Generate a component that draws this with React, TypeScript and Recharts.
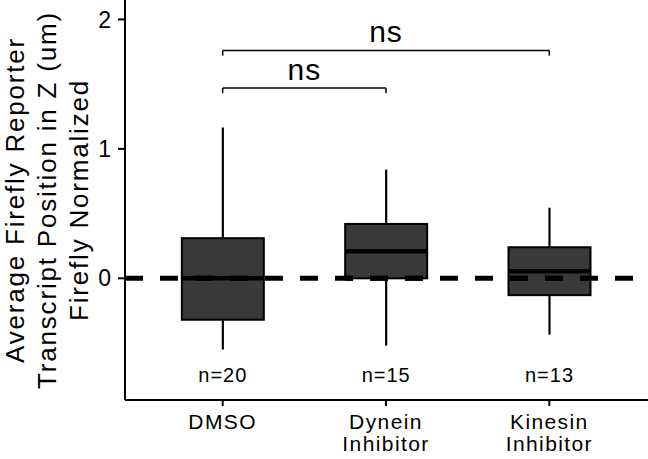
import {
  ComposedChart,
  Bar,
  XAxis,
  YAxis,
  ReferenceLine,
  Customized,
} from 'recharts';

const categories = ['DMSO', 'Dynein Inhibitor', 'Kinesin Inhibitor'];
const whiskerLow = [-0.55, -0.52, -0.435];
const lowerQuartile = [-0.32, 0.0, -0.13];
const medians = [0.0, 0.21, 0.055];
const upperQuartile = [0.31, 0.42, 0.24];
const whiskerHigh = [1.165, 0.84, 0.545];
const counts = [20, 15, 13];

const yTicks = [0, 1, 2];
const yDomain: [number, number] = [-0.94, 2.15];
const countLabelY = -0.8;
const zeroLine = 0;

const brackets = [
  { from: 'DMSO', to: 'Kinesin Inhibitor', y: 1.76, label: 'ns' },
  { from: 'DMSO', to: 'Dynein Inhibitor', y: 1.47, label: 'ns' },
];
const bracketDrop = 0.04;

const titleLines = ['Average Firefly Reporter', 'Transcript Position in Z (um)', 'Firefly Normalized'];

const FONT = '"Liberation Sans", Arial, Helvetica, sans-serif';
const BOX_FILL = '#393939';
const PLOT_LEFT = 125;
const DASH = [18, 17];
const DASH_PERIOD = DASH[0] + DASH[1];

const data = categories.map((name, i) => ({
  name,
  min: whiskerLow[i],
  q1: lowerQuartile[i],
  median: medians[i],
  q3: upperQuartile[i],
  max: whiskerHigh[i],
  n: counts[i],
}));

function BoxShape(props: any) {
  const { x, y, width, height, payload } = props;
  const top = Math.min(y, y + height);
  const bottom = Math.max(y, y + height);
  const span = payload.max - payload.min;
  // the bar covers min..max, so place the other stats along it
  const py = (v: number) => top + ((payload.max - v) / span) * (bottom - top);
  const cx = x + width / 2;
  return (
    <g>
      <line x1={cx} x2={cx} y1={py(payload.max)} y2={py(payload.q3)} stroke="#000" strokeWidth={2.2} />
      <line x1={cx} x2={cx} y1={py(payload.q1)} y2={py(payload.min)} stroke="#000" strokeWidth={2.2} />
      <rect
        x={x}
        y={py(payload.q3)}
        width={width}
        height={py(payload.q1) - py(payload.q3)}
        fill={BOX_FILL}
        stroke="#000"
        strokeWidth={2}
      />
      <line x1={x} x2={x + width} y1={py(payload.median)} y2={py(payload.median)} stroke="#000" strokeWidth={4.5} />
      {/* dashed zero line continues over the box, in phase with the reference line */}
      <line
        x1={x}
        x2={x + width}
        y1={py(zeroLine)}
        y2={py(zeroLine)}
        stroke="#000"
        strokeWidth={5}
        strokeDasharray={DASH.join(' ')}
        strokeDashoffset={(x - PLOT_LEFT) % DASH_PERIOD}
      />
      <text
        x={cx}
        y={py(countLabelY)}
        textAnchor="middle"
        fontSize={20}
        letterSpacing={1}
        fontFamily={FONT}
        fill="#000"
      >
        {`n=${payload.n}`}
      </text>
    </g>
  );
}

function CategoryTick(props: any) {
  const { x, y, payload } = props;
  const words = String(payload.value).split(' ');
  return (
    <g>
      {words.map((w, i) => (
        <text
          key={w}
          x={x}
          y={y + 23 + i * 21.5}
          textAnchor="middle"
          fontSize={21}
          letterSpacing={1.4}
          fontFamily={FONT}
          fill="#000"
        >
          {w}
        </text>
      ))}
    </g>
  );
}

function AxisTitle() {
  const baselines = [24, 56, 88];
  return (
    <g>
      {titleLines.map((t, i) => (
        <text
          key={t}
          x={baselines[i]}
          y={200}
          transform={`rotate(-90 ${baselines[i]} 200)`}
          textAnchor="middle"
          fontSize={26}
          letterSpacing={1.8}
          fontFamily={FONT}
          fill="#000"
        >
          {t}
        </text>
      ))}
    </g>
  );
}

export default function App() {
  return (
    <div style={{ position: 'absolute', left: 0, top: 0, width: 648, height: 459, background: '#fff' }}>
      <ComposedChart
        width={648}
        height={459}
        data={data}
        margin={{ top: 0, right: 0, left: 0, bottom: 0 }}
        barCategoryGap="25%"
      >
        <XAxis
          dataKey="name"
          type="category"
          height={59}
          padding={{ left: 16, right: 17 }}
          tick={<CategoryTick />}
          tickSize={6}
          tickMargin={0}
          axisLine={{ stroke: '#000', strokeWidth: 2 }}
          tickLine={{ stroke: '#000', strokeWidth: 2 }}
          interval={0}
        />
        <YAxis
          type="number"
          domain={yDomain}
          ticks={yTicks}
          width={PLOT_LEFT}
          tickSize={7}
          tickMargin={7}
          allowDataOverflow
          axisLine={{ stroke: '#000', strokeWidth: 2 }}
          tickLine={{ stroke: '#000', strokeWidth: 2 }}
          tick={{ fill: '#000', fontSize: 23, fontFamily: FONT }}
        />
        <ReferenceLine
          y={zeroLine}
          stroke="#000"
          strokeWidth={5}
          strokeDasharray={DASH.join(' ')}
        />
        <Bar
          dataKey={(d: any) => [d.min, d.max]}
          shape={<BoxShape />}
          isAnimationActive={false}
        />
        {brackets.map((b) => (
          <ReferenceLine
            key={`h-${b.to}`}
            segment={[
              { x: b.from, y: b.y },
              { x: b.to, y: b.y },
            ]}
            stroke="#000"
            strokeWidth={1.5}
            label={{
              value: b.label,
              position: 'top',
              offset: 8,
              fontSize: 30,
              letterSpacing: 1,
              fontFamily: FONT,
              fill: '#000',
            }}
          />
        ))}
        {brackets.flatMap((b) =>
          [b.from, b.to].map((c) => (
            <ReferenceLine
              key={`v-${b.to}-${c}`}
              segment={[
                { x: c, y: b.y },
                { x: c, y: b.y - bracketDrop },
              ]}
              stroke="#000"
              strokeWidth={1.5}
            />
          )),
        )}
        <Customized component={<AxisTitle />} />
      </ComposedChart>
    </div>
  );
}
